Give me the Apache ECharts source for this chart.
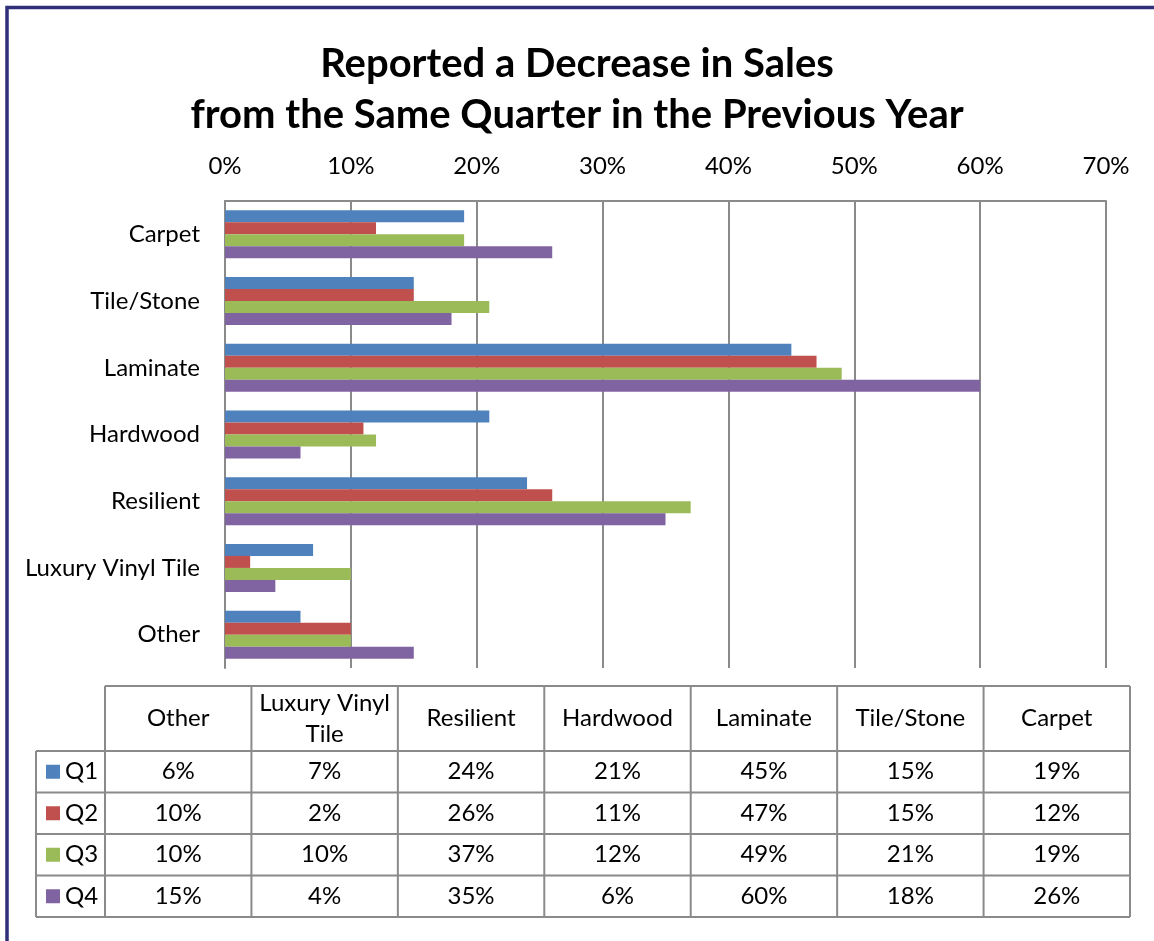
<!DOCTYPE html>
<html>
<head>
<meta charset="utf-8">
<script src="https://cdn.jsdelivr.net/npm/echarts@6/dist/echarts.min.js"></script>
<style>
  html, body { margin: 0; padding: 0; background: #ffffff; }
  #chart { width: 1154px; height: 941px; }
</style>
</head>
<body>
<div id="chart"></div>
<script>
// Flooring categories (bottom-to-top on the chart, left-to-right in the table)
const categories = ['Other', 'Luxury Vinyl Tile', 'Resilient', 'Hardwood', 'Laminate', 'Tile/Stone', 'Carpet'];
const tableHeaders = ['Other', 'Luxury Vinyl\nTile', 'Resilient', 'Hardwood', 'Laminate', 'Tile/Stone', 'Carpet'];
const quarters = ['Q1', 'Q2', 'Q3', 'Q4'];

// Share reporting a decrease in sales, percent
const q1 = [6, 7, 24, 21, 45, 15, 19];
const q2 = [10, 2, 26, 11, 47, 15, 12];
const q3 = [10, 10, 37, 12, 49, 21, 19];
const q4 = [15, 4, 35, 6, 60, 18, 26];

const axisMin = 0;
const axisMax = 70;
const axisStep = 10;

const quarterValues = [q1, q2, q3, q4];
const colors = ['#4F81BD', '#C0504D', '#9BBB59', '#8064A2'];
const FONT = 'Lato';
const LABEL_SIZE = 24;

const chart = echarts.init(document.getElementById('chart'), null, { renderer: 'canvas' });

// Bar series, one per quarter
const series = quarters.map((q, i) => ({
  name: q,
  type: 'bar',
  data: quarterValues[i],
  barGap: '0%',
  barCategoryGap: '28%',
  itemStyle: { color: colors[i] },
  silent: true
}));

// Data table beneath the plot
const tbl = {
  left: 105, right: 1130, keyLeft: 36,
  headTop: 686, headBottom: 751, rowH: 41.5
};
const colW = (tbl.right - tbl.left) / categories.length;
const lineColor = '#8a8a8a';
const graphics = [];

function hLine(x1, x2, y) {
  graphics.push({ type: 'line', shape: { x1, y1: y, x2, y2: y }, style: { stroke: lineColor, lineWidth: 2 }, silent: true });
}
function vLine(x, y1, y2) {
  graphics.push({ type: 'line', shape: { x1: x, y1, x2: x, y2 }, style: { stroke: lineColor, lineWidth: 2 }, silent: true });
}
function cellText(text, cx, cy) {
  graphics.push({
    type: 'text', x: cx, y: cy, silent: true,
    style: { text, fill: '#000', font: LABEL_SIZE + 'px ' + FONT, align: 'center', verticalAlign: 'middle', lineHeight: 31 }
  });
}

const tableBottom = tbl.headBottom + tbl.rowH * quarters.length;
hLine(tbl.left, tbl.right, tbl.headTop);
hLine(tbl.keyLeft, tbl.right, tbl.headBottom);
for (let r = 1; r <= quarters.length; r++) {
  hLine(tbl.keyLeft, tbl.right, tbl.headBottom + tbl.rowH * r);
}
vLine(tbl.keyLeft, tbl.headBottom, tableBottom);
for (let c = 0; c <= categories.length; c++) {
  vLine(tbl.left + colW * c, tbl.headTop, tableBottom);
}
tableHeaders.forEach((h, c) => {
  cellText(h, tbl.left + colW * (c + 0.5), (tbl.headTop + tbl.headBottom) / 2);
});
quarters.forEach((q, r) => {
  const cy = tbl.headBottom + tbl.rowH * (r + 0.5);
  graphics.push({
    type: 'rect', silent: true,
    shape: { x: 46, y: cy - 7, width: 14, height: 14 },
    style: { fill: colors[r] }
  });
  graphics.push({
    type: 'text', x: 65, y: cy, silent: true,
    style: { text: q, fill: '#000', font: LABEL_SIZE + 'px ' + FONT, align: 'left', verticalAlign: 'middle' }
  });
  quarterValues[r].forEach((v, c) => {
    cellText(v + '%', tbl.left + colW * (c + 0.5), cy);
  });
});

// Slide frame along the top and left edges
graphics.push({
  type: 'rect', silent: true, z: 100,
  shape: { x: 7, y: 7.5, width: 1300, height: 1100 },
  style: { fill: null, stroke: '#30307a', lineWidth: 3.5 }
});

const option = {
  backgroundColor: '#ffffff',
  animation: false,
  title: {
    text: 'Reported a Decrease in Sales\nfrom the Same Quarter in the Previous Year',
    left: 'center',
    top: 34,
    textStyle: { fontFamily: FONT, fontWeight: 'bold', fontSize: 40, lineHeight: 51, color: '#000', align: 'center' }
  },
  grid: { left: 225, right: 48, top: 201, bottom: 273, containLabel: false },
  xAxis: {
    type: 'value',
    position: 'top',
    min: axisMin,
    max: axisMax,
    interval: axisStep,
    axisLine: { show: true, lineStyle: { color: lineColor, width: 2 } },
    axisTick: { show: false },
    axisLabel: {
      formatter: '{value}%',
      fontFamily: FONT, fontSize: LABEL_SIZE, color: '#000', margin: 23
    },
    splitLine: { show: true, lineStyle: { color: lineColor, width: 2 } }
  },
  yAxis: {
    type: 'category',
    data: categories,
    axisLine: { show: true, lineStyle: { color: lineColor, width: 2 } },
    axisTick: { show: false },
    axisLabel: { fontFamily: FONT, fontSize: LABEL_SIZE, color: '#000', margin: 25 }
  },
  series: series,
  graphic: graphics
};

chart.setOption(option);
</script>
</body>
</html>
